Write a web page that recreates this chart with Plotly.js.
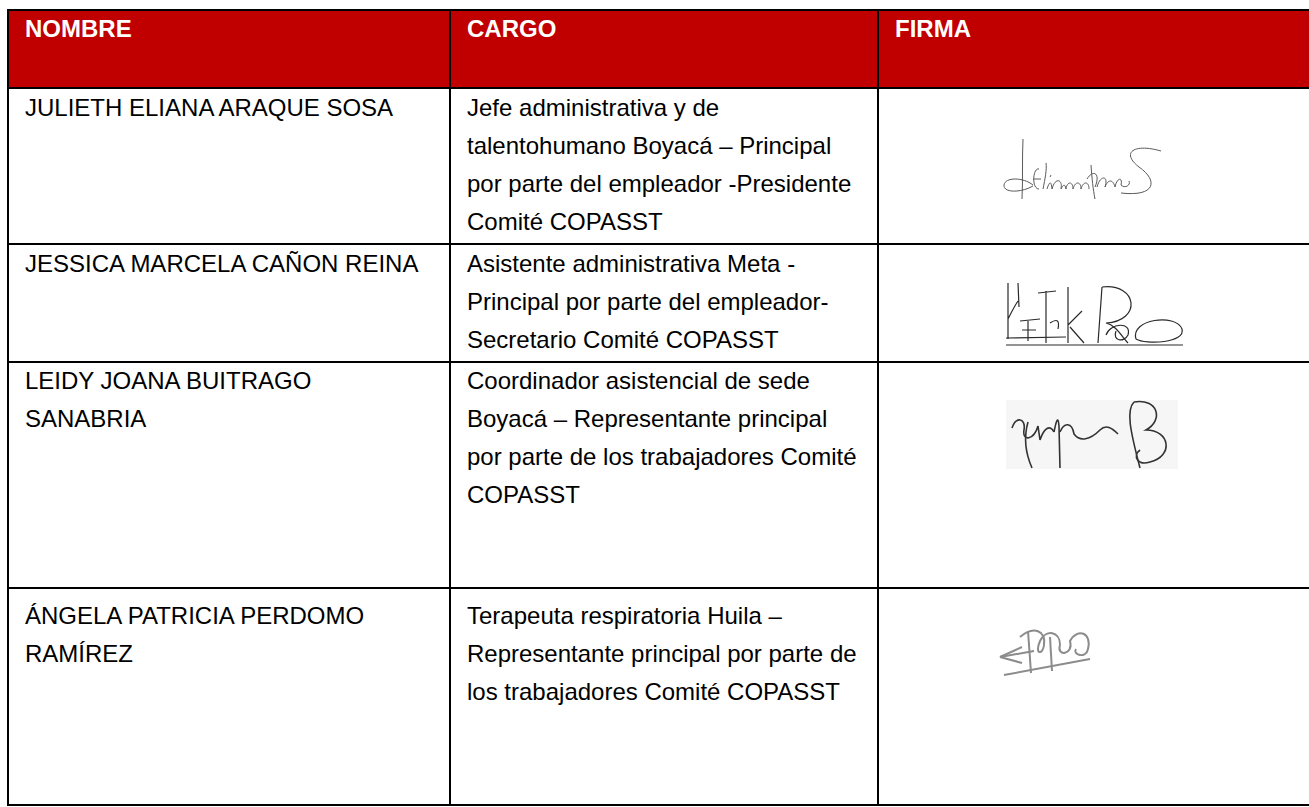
<!DOCTYPE html>
<html>
<head>
<meta charset="utf-8">
<script src="https://cdn.plot.ly/plotly-3.0.1.min.js"></script>
<style>
  html, body { margin: 0; padding: 0; background: #ffffff; }
  #chart { width: 1309px; height: 807px; }
</style>
</head>
<body>
<div id="chart"></div>
<script>
// ---------- content ----------
var headers = ['NOMBRE', 'CARGO', 'FIRMA'];

var nombres = [
  ['JULIETH ELIANA ARAQUE SOSA'],
  ['JESSICA MARCELA CAÑON REINA'],
  ['LEIDY JOANA BUITRAGO', 'SANABRIA'],
  ['ÁNGELA PATRICIA PERDOMO', 'RAMÍREZ']
];

var cargos = [
  ['Jefe administrativa y de', 'talentohumano Boyacá – Principal', 'por parte del empleador -Presidente', 'Comité COPASST'],
  ['Asistente administrativa Meta -', 'Principal por parte del empleador-', 'Secretario Comité COPASST'],
  ['Coordinador asistencial de sede', 'Boyacá – Representante principal', 'por parte de los trabajadores Comité', 'COPASST'],
  ['Terapeuta respiratoria Huila –', 'Representante principal por parte de', 'los trabajadores Comité COPASST']
];

// ---------- layout geometry (pixels in the axis frame) ----------
var W = 1309, H = 807;
var colEdges = [8, 450, 878, 1330];
var rowEdges = [10, 88, 244, 362, 588, 805];
var rowTextOffset = [2.5, 4, 3.5, 3, 11.5];
var textPadX = 15;
var lineStep = 38;
var fontSize = 24;
var headerColor = '#C00000';
var borderColor = '#000000';
var fontFamily = 'Liberation Sans, Arial, Helvetica, sans-serif';

// decorative signature strokes (local coordinates inside each signature box)
var firmas = [
  { ox: 1003, oy: 139, color: '#5a5a5a', width: 1, bg: null, paths: [
    'M20,0 C19,20 20,40 19,60',
    'M30,46 C20,38 2,38 1,46 C0,54 18,54 30,47',
    'M36,30 C30,28 28,50 36,50 M30,40 L38,40',
    'M40,50 C42,40 44,30 43,24 M44,50 C46,44 48,40 49,50 M47,38 L48,36',
    'M49,50 C52,38 60,40 58,50 C60,46 62,44 63,50 C64,42 70,42 70,50 C72,42 78,42 78,50 C80,42 86,42 86,50',
    'M88,26 C89,40 90,50 92,60 M84,40 C90,30 98,34 92,48',
    'M94,48 C97,36 106,36 102,48 C105,40 110,40 112,48 C114,38 120,38 118,46 C122,50 128,46 126,42',
    'M158,12 C130,4 118,14 136,28 C156,42 152,58 118,54'
  ]},
  { ox: 1006, oy: 283, color: '#2a2a2a', width: 1.2, bg: null, paths: [
    'M0,62 L177,62',
    'M0,55 L60,54',
    'M2,0 L2,56 M2,36 C6,28 9,22 12,18 M12,0 L13,24',
    'M14,38 L34,36 M22,38 L22,58 M16,47 L30,47',
    'M40,8 L40,60 M32,10 L50,8 M44,40 C50,36 54,36 52,46',
    'M62,4 L62,60 M62,42 L76,28 M64,44 L78,60',
    'M96,4 L92,60 M96,4 C132,0 136,38 100,40 C110,42 116,54 122,60',
    'M100,52 C104,40 126,38 122,52 C118,60 106,58 110,48',
    'M130,56 C124,36 170,30 176,46 C180,60 140,62 130,56'
  ]},
  { ox: 1008, oy: 400, color: '#333333', width: 1.6, bg: '#f6f6f6', bw: 170, bh: 69, paths: [
    'M4,28 C8,16 18,18 16,30 C14,42 26,40 30,26 L32,40 C36,28 42,24 46,32',
    'M20,22 C16,36 17,52 24,68',
    'M46,32 C48,22 50,14 51,26 L52,68',
    'M52,32 C56,22 64,22 66,34 C72,42 82,40 92,30 C98,24 104,28 110,34',
    'M126,2 C118,10 122,30 132,68',
    'M126,2 C150,-2 156,20 138,30 C162,30 166,56 142,62 C130,66 124,56 132,50'
  ]},
  { ox: 1000, oy: 625, color: '#8c8c8c', width: 2, bg: null, paths: [
    'M4,50 L90,34',
    'M0,32 L34,26',
    'M0,32 L22,22 M0,32 L22,38',
    'M28,6 C29,20 30,34 31,48',
    'M20,12 C34,0 46,6 44,20 C43,30 34,30 40,16 C46,4 60,6 60,20',
    'M60,20 C56,32 74,30 70,16 C78,2 92,8 88,24 C86,34 72,30 76,24',
    'M50,12 L52,46'
  ]}
];

// ---------- build figure ----------
function shiftPath(d, ox, oy) {
  return d.replace(/([MLCQ])([^MLCQ]*)/g, function (m, cmd, nums) {
    var v = nums.trim().split(/[\s,]+/).filter(function (s) { return s.length; }).map(Number);
    var out = [];
    for (var i = 0; i < v.length; i += 2) {
      out.push((v[i] + ox) + ',' + (v[i + 1] + oy));
    }
    return cmd + out.join(' ') + ' ';
  });
}

var shapes = [];
var annotations = [];

// header background
shapes.push({
  type: 'rect', xref: 'x', yref: 'y', layer: 'below',
  x0: colEdges[0], x1: colEdges[colEdges.length - 1],
  y0: rowEdges[0], y1: rowEdges[1],
  fillcolor: headerColor, line: { width: 0 }
});

// signature background boxes + strokes
firmas.forEach(function (f) {
  if (f.bg) {
    shapes.push({
      type: 'rect', xref: 'x', yref: 'y', layer: 'below',
      x0: f.ox - 2, x1: f.ox + f.bw, y0: f.oy, y1: f.oy + f.bh,
      fillcolor: f.bg, line: { width: 0 }
    });
  }
  f.paths.forEach(function (p) {
    shapes.push({
      type: 'path', xref: 'x', yref: 'y', layer: 'above',
      path: shiftPath(p, f.ox, f.oy),
      line: { color: f.color, width: f.width }
    });
  });
});

// grid lines
rowEdges.forEach(function (y) {
  shapes.push({
    type: 'line', xref: 'x', yref: 'y', layer: 'above',
    x0: colEdges[0] - 1, x1: colEdges[colEdges.length - 1], y0: y, y1: y,
    line: { color: borderColor, width: 2 }
  });
});
colEdges.forEach(function (x) {
  shapes.push({
    type: 'line', xref: 'x', yref: 'y', layer: 'above',
    x0: x, x1: x, y0: rowEdges[0] - 1, y1: rowEdges[rowEdges.length - 1] + 1,
    line: { color: borderColor, width: 2 }
  });
});

function addLines(lines, col, row, color, bold) {
  lines.forEach(function (t, i) {
    annotations.push({
      xref: 'x', yref: 'y', showarrow: false,
      x: colEdges[col] + textPadX,
      y: rowEdges[row] + rowTextOffset[row] + i * lineStep,
      xanchor: 'left', yanchor: 'top', align: 'left',
      text: bold ? '<b>' + t + '</b>' : t,
      font: { family: fontFamily, size: fontSize, color: color }
    });
  });
}

headers.forEach(function (h, c) { addLines([h], c, 0, '#ffffff', true); });
nombres.forEach(function (lines, r) { addLines(lines, 0, r + 1, '#000000', false); });
cargos.forEach(function (lines, r) { addLines(lines, 1, r + 1, '#000000', false); });

var data = [{
  type: 'scatter', mode: 'markers', x: [], y: [],
  hoverinfo: 'skip', showlegend: false
}];

var layout = {
  width: W, height: H,
  margin: { l: 0, r: 0, t: 0, b: 0, pad: 0 },
  paper_bgcolor: '#ffffff', plot_bgcolor: '#ffffff',
  showlegend: false,
  xaxis: { range: [0, W], visible: false, fixedrange: true, showgrid: false, zeroline: false },
  yaxis: { range: [H, 0], visible: false, fixedrange: true, showgrid: false, zeroline: false },
  shapes: shapes,
  annotations: annotations
};

Plotly.newPlot('chart', data, layout, { displayModeBar: false, staticPlot: true });
</script>
</body>
</html>
